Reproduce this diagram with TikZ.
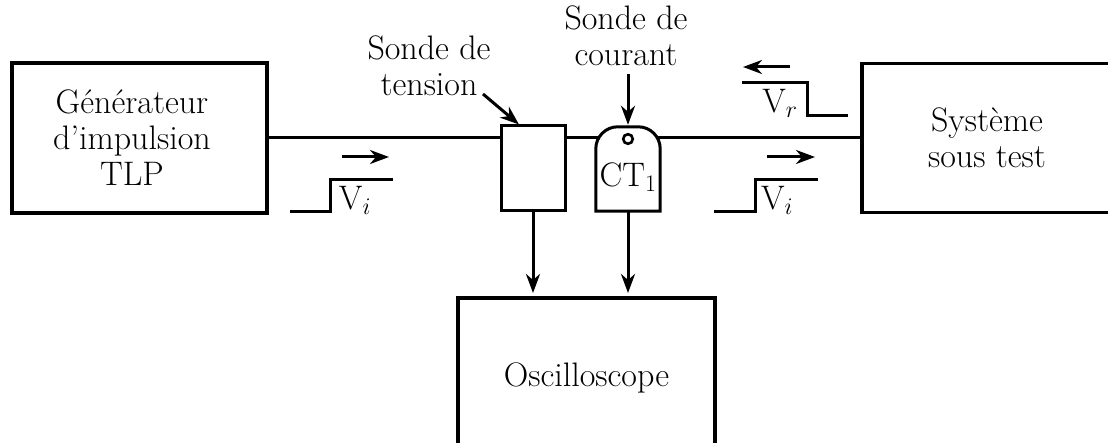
\documentclass[tikz,border=0pt]{standalone}
\usepackage{fix-cm}
\usetikzlibrary{arrows.meta}
\begin{document}
\begin{tikzpicture}[x=1pt,y=-1pt,
  txt/.style={font=\fontsize{34}{36}\selectfont, align=center, inner sep=0pt},
  bigbox/.style={draw, line width=3.6pt, inner sep=0pt, txt},
  smallbox/.style={draw, line width=3pt, inner sep=0pt},
  wire/.style={line width=3pt},
  arr/.style={wire, -{Stealth[length=19pt,width=14pt,inset=6pt]}}]
\clip (0,0) rectangle (1108,443);
% blocks
\node[bigbox, minimum width=255pt, minimum height=150pt] (gen) at (139.5,138) {};
\node[txt] (gent) at (132,138) {Générateur\\d’impulsion\\TLP};
\node[bigbox, minimum width=250pt, minimum height=149pt] (sys) at (987,138) {Système\\sous test};
\node[bigbox, minimum width=257pt, minimum height=160pt, anchor=north] (osc) at (586.5,296) {Oscilloscope};
\node[smallbox, minimum width=64pt, minimum height=85pt] (vp) at (533,168.5) {};
\node[minimum width=64pt, minimum height=84pt, inner sep=0pt] (ct) at (628,169) {};
\draw[wire] (ct.south west) -- ([yshift=-22pt]ct.north west)
  arc[start angle=180,end angle=90,radius=22pt] -- ([xshift=-22pt]ct.north east)
  arc[start angle=90,end angle=0,radius=22pt] -- (ct.south east) -- cycle;
\draw[line width=2.6pt] (628,139) circle[radius=4.8pt];
\node[txt] (ctl) at (628,177) {CT$_1$};
% main line
\draw[wire] (gen.east) -- (gen.east -| vp.west);
\draw[wire] (vp.east |- gen.east) -- ([xshift=4pt]ct.west |- gen.east);
\draw[wire] ([xshift=-4pt]ct.east |- gen.east) -- (sys.west);
% probes to scope
\draw[arr] (vp.south) -- ([yshift=3pt]vp.south |- osc.north);
\draw[arr] (ct.south) -- ([yshift=3pt]ct.south |- osc.north);
% probe labels
\node[txt] (lv) at (429,66) {Sonde de\\tension};
\node[txt] (lc) at (626,36) {Sonde de\\courant};
\coordinate (lva) at (483,94);
\draw[arr] (lva) -- ([xshift=-14pt]vp.north);
\coordinate (lca) at (628,74);
\draw[arr] (lca) -- ([yshift=2pt]ct.north);
% incident wave (left)
\draw[wire] (290,212) -- (330,212) -- (330,180) -- (393,180);
\coordinate (a1) at (342,157); \coordinate (b1) at (389,157);
\draw[arr] (a1) -- (b1);
\node[txt] (vi1) at (355,200) {V$_i$};
% incident wave (right)
\draw[wire] (714,212) -- (755,212) -- (755,180) -- (818,180);
\coordinate (a2) at (767,157); \coordinate (b2) at (815,157);
\draw[arr] (a2) -- (b2);
\node[txt] (vi2) at (777,200) {V$_i$};
% reflected wave
\draw[wire] (742,83) -- (807,83) -- (807,116) -- (848,116);
\coordinate (a3) at (790,67); \coordinate (b3) at (743,67);
\draw[arr] (a3) -- (b3);
\node[txt] (vr) at (780,103) {V$_r$};
\end{tikzpicture}
\end{document}
